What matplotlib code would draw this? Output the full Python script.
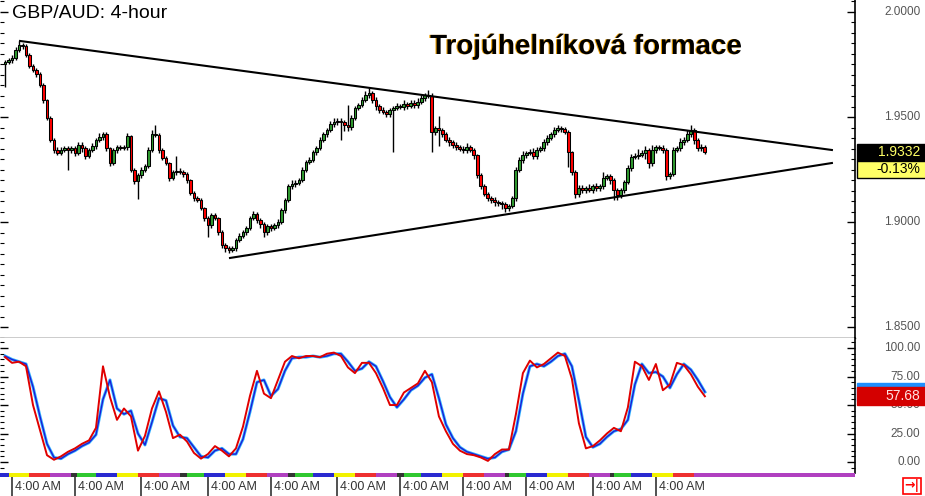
import matplotlib
matplotlib.use('Agg')
import matplotlib.pyplot as plt
import matplotlib.patheffects as pe
from matplotlib.patches import Rectangle
from matplotlib.ticker import MultipleLocator
from matplotlib.transforms import blended_transform_factory
import numpy as np

plt.rcParams['font.family'] = ['Liberation Sans', 'DejaVu Sans']

# ---- data (GBP/AUD 4-hour candles) ----
first_open = 1.9752
closes = [
    1.9762, 1.9771, 1.9781, 1.9819, 1.9843, 1.9838, 1.9795, 1.9743, 1.9724, 1.9705,
    1.9652, 1.9581, 1.9495, 1.9390, 1.9343, 1.9329, 1.9343, 1.9352, 1.9343, 1.9352,
    1.9329, 1.9367, 1.9352, 1.9314, 1.9343, 1.9362, 1.9390, 1.9405, 1.9419, 1.9352,
    1.9281, 1.9343, 1.9357, 1.9352, 1.9357, 1.9410, 1.9248, 1.9195, 1.9224, 1.9248,
    1.9267, 1.9343, 1.9419, 1.9414, 1.9343, 1.9305, 1.9281, 1.9210, 1.9238, 1.9243,
    1.9238, 1.9229, 1.9200, 1.9138, 1.9114, 1.9105, 1.9067, 1.9019, 1.8986, 1.9033,
    1.9019, 1.8952, 1.8890, 1.8876, 1.8867, 1.8876, 1.8914, 1.8933, 1.8952, 1.8971,
    1.9019, 1.9038, 1.9010, 1.8990, 1.8952, 1.8981, 1.8971, 1.8986, 1.9000, 1.9057,
    1.9105, 1.9171, 1.9181, 1.9186, 1.9200, 1.9248, 1.9286, 1.9295, 1.9333, 1.9352,
    1.9390, 1.9419, 1.9438, 1.9467, 1.9476, 1.9481, 1.9476, 1.9462, 1.9452, 1.9495,
    1.9543, 1.9557, 1.9581, 1.9605, 1.9614, 1.9581, 1.9552, 1.9533, 1.9524, 1.9514,
    1.9533, 1.9543, 1.9552, 1.9548, 1.9562, 1.9552, 1.9567, 1.9557, 1.9571, 1.9590,
    1.9605, 1.9600, 1.9429, 1.9448, 1.9438, 1.9419, 1.9390, 1.9381, 1.9367, 1.9357,
    1.9348, 1.9343, 1.9357, 1.9343, 1.9319, 1.9224, 1.9171, 1.9133, 1.9114, 1.9105,
    1.9095, 1.9090, 1.9086, 1.9067, 1.9076, 1.9114, 1.9248, 1.9295, 1.9319, 1.9329,
    1.9333, 1.9314, 1.9343, 1.9352, 1.9381, 1.9400, 1.9419, 1.9438, 1.9448, 1.9443,
    1.9429, 1.9333, 1.9238, 1.9133, 1.9162, 1.9152, 1.9162, 1.9152, 1.9171, 1.9162,
    1.9171, 1.9210, 1.9219, 1.9200, 1.9152, 1.9129, 1.9152, 1.9190, 1.9257, 1.9310,
    1.9314, 1.9319, 1.9329, 1.9343, 1.9281, 1.9343, 1.9357, 1.9352, 1.9343, 1.9219,
    1.9229, 1.9343, 1.9352, 1.9381, 1.9390, 1.9419, 1.9438, 1.9390, 1.9352, 1.9357,
    1.9332,
]
# wick lengths beyond the body, in pips
upper_wick = [
    8, 10, 12, 15, 20, 10, 8, 12, 10, 8,
    10, 8, 6, 8, 10, 12, 15, 10, 8, 12,
    10, 15, 12, 8, 10, 12, 10, 20, 12, 8,
    6, 10, 12, 8, 10, 15, 6, 8, 10, 12,
    10, 15, 20, 45, 8, 10, 8, 6, 10, 70,
    12, 10, 8, 6, 8, 10, 8, 6, 10, 12,
    8, 6, 8, 10, 8, 12, 10, 15, 10, 12,
    10, 15, 10, 8, 10, 12, 8, 10, 15, 10,
    8, 12, 20, 15, 10, 12, 10, 15, 12, 10,
    15, 10, 12, 15, 20, 12, 15, 10, 95, 15,
    10, 12, 15, 20, 25, 10, 12, 8, 15, 10,
    12, 10, 15, 12, 18, 10, 15, 12, 20, 15,
    10, 25, 15, 10, 57, 12, 10, 15, 10, 12,
    8, 15, 20, 10, 8, 6, 10, 8, 12, 10,
    15, 10, 12, 10, 8, 10, 12, 15, 20, 10,
    15, 20, 12, 10, 15, 12, 10, 15, 12, 10,
    8, 10, 6, 8, 15, 12, 10, 20, 12, 15,
    10, 30, 12, 10, 8, 10, 12, 10, 15, 12,
    15, 30, 12, 20, 10, 25, 12, 10, 15, 8,
    10, 15, 12, 20, 15, 20, 25, 12, 10, 15,
    8,
]
lower_wick = [
    110, 10, 12, 8, 10, 15, 10, 12, 8, 15,
    10, 12, 8, 10, 15, 12, 10, 8, 95, 12,
    15, 10, 20, 15, 10, 8, 12, 10, 15, 12,
    15, 10, 12, 10, 8, 12, 10, 15, 85, 12,
    10, 12, 8, 10, 15, 12, 10, 15, 10, 12,
    10, 15, 12, 10, 15, 10, 12, 15, 57, 12,
    10, 12, 15, 20, 15, 10, 12, 10, 8, 12,
    10, 8, 15, 20, 25, 12, 15, 10, 12, 10,
    12, 10, 15, 12, 10, 8, 12, 10, 8, 12,
    10, 8, 12, 10, 15, 12, 85, 30, 20, 12,
    10, 12, 8, 10, 15, 12, 20, 15, 10, 12,
    15, 200, 12, 10, 15, 12, 10, 15, 12, 10,
    12, 8, 95, 15, 76, 12, 10, 20, 15, 12,
    10, 15, 12, 10, 20, 12, 15, 10, 12, 15,
    20, 15, 25, 20, 15, 10, 12, 10, 15, 12,
    10, 15, 12, 10, 12, 15, 10, 12, 10, 15,
    12, 70, 15, 20, 12, 15, 12, 10, 15, 12,
    15, 12, 10, 20, 48, 25, 15, 12, 10, 15,
    12, 15, 10, 30, 25, 15, 12, 10, 15, 20,
    15, 12, 10, 15, 12, 10, 15, 20, 12, 15,
    10,
]

# triangle trend lines: (candle index, price)
upper_line = [(4.3, 1.9862), (236.3, 1.9343)]
lower_line = [(64.3, 1.8829), (236.3, 1.9281)]

# stochastic oscillator, sampled every 2 candles
stoch_k = [
    92, 87, 88, 84, 50, 28, 6, 2, 5, 9,
    12, 16, 19, 30, 84, 57, 37, 47, 40, 10,
    23, 47, 62, 44, 21, 24, 18, 8, 3, 7,
    14, 10, 5, 12, 31, 58, 80, 60, 56, 72,
    88, 93, 91, 93, 93, 92, 95, 96, 93, 83,
    78, 87, 87, 78, 65, 50, 50, 61, 65, 69,
    80, 70, 40, 27, 16, 10, 7, 6, 4, 1,
    7, 11, 11, 42, 78, 89, 83, 86, 91, 96,
    93, 73, 34, 12, 14, 19, 25, 30, 27, 48,
    88, 84, 72, 86, 63, 68, 87, 85, 77, 66,
    57.68,
]
stoch_d = [
    93, 90, 88, 86, 66, 40, 16, 4, 3, 7,
    10, 14, 17, 24, 55, 72, 47, 42, 45, 25,
    15, 35, 56, 54, 32, 22, 21, 13, 5, 4,
    10, 12, 7, 7, 20, 44, 70, 72, 58, 64,
    80, 91, 92, 92, 93, 92, 93, 95, 95, 88,
    80, 82, 88, 84, 71, 57, 48, 55, 63, 67,
    74, 77, 56, 33, 21, 13, 9, 7, 5, 3,
    4, 9, 11, 27, 60, 84, 86, 84, 88, 93,
    95, 84, 54, 22, 13, 16, 22, 27, 29, 37,
    68, 86, 78, 79, 75, 65, 77, 86, 81, 72,
    61.5,
]

tick_idx = [2, 20, 39, 58, 76, 95, 113, 131, 149, 168, 186]
tick_text = '4:00 AM'
day_starts = [-1.5, 1, 7, 13, 19, 20.5, 26, 32, 38, 44, 50, 52, 57, 63, 69, 75, 81, 83,
              88, 94, 100, 106, 112, 114, 119, 125, 131, 137, 143, 144, 149, 155, 161,
              167, 173, 174, 179, 185, 191, 197, 243]

price_labels = [2.0, 1.95, 1.90, 1.85]
osc_labels = [100, 75, 50, 25, 0]

# ---- layout ----
W, H = 925, 496
fig = plt.figure(figsize=(W / 100, H / 100), dpi=100)


def px_axes(x0, y0, x1, y1):
    return fig.add_axes([x0 / W, 1 - y1 / H, (x1 - x0) / W, (y1 - y0) / H])


XMIN, XMAX = -1.43, 242.9
ax = px_axes(0, 0, 855, 338)
ax2 = px_axes(0, 338, 855, 473)
band = px_axes(0, 473, 855, 477)
lab = px_axes(0, 477, 855, 496)
for a in (ax, ax2, band, lab):
    a.set_xlim(XMIN, XMAX)

# ---- candles ----
idx = np.arange(len(closes))
c = np.array(closes)
o = np.r_[first_open, c[:-1]]
hi = np.maximum(o, c) + np.array(upper_wick) * 0.0001
lo = np.minimum(o, c) - np.array(lower_wick) * 0.0001
cols = np.where(c >= o, '#2f9a2f', '#ff0000')
ax.vlines(idx, lo, hi, color='black', lw=1.0, zorder=2)
ax.bar(idx, c - o, bottom=o, width=0.82, color=cols, edgecolor='black',
       linewidth=0.75, zorder=3)

for line in (upper_line, lower_line):
    xs, ys = zip(*line)
    ax.plot(xs, ys, color='black', lw=1.5, zorder=4)

ax.set_ylim(1.8448, 2.0057)
ax.yaxis.set_major_locator(MultipleLocator(0.05))
ax.yaxis.set_minor_locator(MultipleLocator(0.005))

# ---- oscillator ----
osc_idx = np.arange(0, 2 * len(stoch_k) - 1, 2)
ax2.plot(osc_idx, stoch_d, color='#33b5ff', lw=2.2, zorder=2)
ax2.plot(osc_idx, stoch_d, color='#1c1cd8', lw=1.0, zorder=3)
ax2.plot(osc_idx, stoch_k, color='#e00000', lw=1.4, zorder=4)
ax2.set_ylim(-9.6, 108.8)
ax2.yaxis.set_major_locator(MultipleLocator(25))
ax2.yaxis.set_minor_locator(MultipleLocator(5))

for a in (ax, ax2):
    a.set_xticks([])
    for s in ('top', 'left'):
        a.spines[s].set_visible(False)
    a.spines['right'].set_linewidth(1.2)
    a.tick_params(axis='y', which='both', direction='in', left=True, right=True,
                  labelleft=False, labelright=False)
    a.tick_params(axis='y', which='major', length=6, width=1)
    a.tick_params(axis='y', which='minor', length=3, width=0.8)
ax.spines['bottom'].set_linewidth(1.0)
ax2.spines['bottom'].set_visible(False)

lab_style = dict(ha='right', va='center', color='#555555', fontsize=8.5,
                 textcoords='offset points', annotation_clip=False)
for v in price_labels:
    ax.annotate('%.4f' % v, xy=(1, v), xycoords=('axes fraction', 'data'),
                xytext=(47, 0), **lab_style)
for v in osc_labels:
    ax2.annotate('%.2f' % v, xy=(1, v), xycoords=('axes fraction', 'data'),
                 xytext=(47, 0), **lab_style)


# value tags on the right scale
def tag(a, val, h, text, fc, tc, ec=None):
    tr = blended_transform_factory(a.transAxes, a.transData)
    a.add_patch(Rectangle((1.002, val - h / 2), 70 / 855, h, transform=tr,
                          facecolor=fc, edgecolor=ec or fc, lw=1,
                          clip_on=False, zorder=10))
    if text:
        a.text(1.076, val, text, transform=tr, ha='right', va='center',
               color=tc, fontsize=10, zorder=11, clip_on=False)


last = closes[-1]
ph = 17 * (2.0057 - 1.8448) / 338
tag(ax, last, ph, '%.4f' % last, 'black', '#ffff66')
tag(ax, last - ph, ph, '-0.13%', '#ffff66', 'black', ec='black')
oh = 18 * (108.8 + 9.6) / 135
# the %D tag sits almost entirely behind the %K tag
tag(ax2, stoch_k[-1] + 4 * (108.8 + 9.6) / 135, oh, None, '#1e8fff', 'white')
tag(ax2, stoch_k[-1], oh, '%.2f' % stoch_k[-1], '#d40000', '#ffe0e0')

# ---- day colour band and time labels ----
band_cols = ['#2a2ad0'] + ['#f2f200', '#ee3030', '#b040c0', '#333333',
                           '#30c830', '#2a2ad0'] * 7
for i in range(len(day_starts) - 1):
    band.axvspan(day_starts[i], day_starts[i + 1], color=band_cols[i], lw=0)
band.axis('off')

for t in tick_idx:
    lab.axvline(t, color='#333333', lw=1.2)
    lab.annotate(tick_text, xy=(t, 0.5), xycoords=('data', 'axes fraction'),
                 xytext=(2, 0), textcoords='offset points', ha='left',
                 va='center', fontsize=9, color='#333333')
lab.axis('off')

# ---- titles ----
ax.text(12 / 855, 1 - 13 / 338, 'GBP/AUD: 4-hour', transform=ax.transAxes,
        ha='left', va='center', fontsize=14, color='black')
ax.text(586 / 855, 1 - 47 / 338, 'Trojúhelníková formace', transform=ax.transAxes,
        ha='center', va='center', fontsize=20, fontweight='bold', color='black',
        path_effects=[pe.withSimplePatchShadow(offset=(-0.8, 0),
                                               shadow_rgbFace='#f0a000', alpha=1)])

fig.text(912 / W, 1 - 486 / H, '→|', ha='center', va='center', color='red',
         fontsize=9, fontweight='bold', family='DejaVu Sans',
         bbox=dict(facecolor='white', edgecolor='red', lw=1.2,
                   boxstyle='square,pad=0.15'))

fig.savefig('out.png', dpi=100)
